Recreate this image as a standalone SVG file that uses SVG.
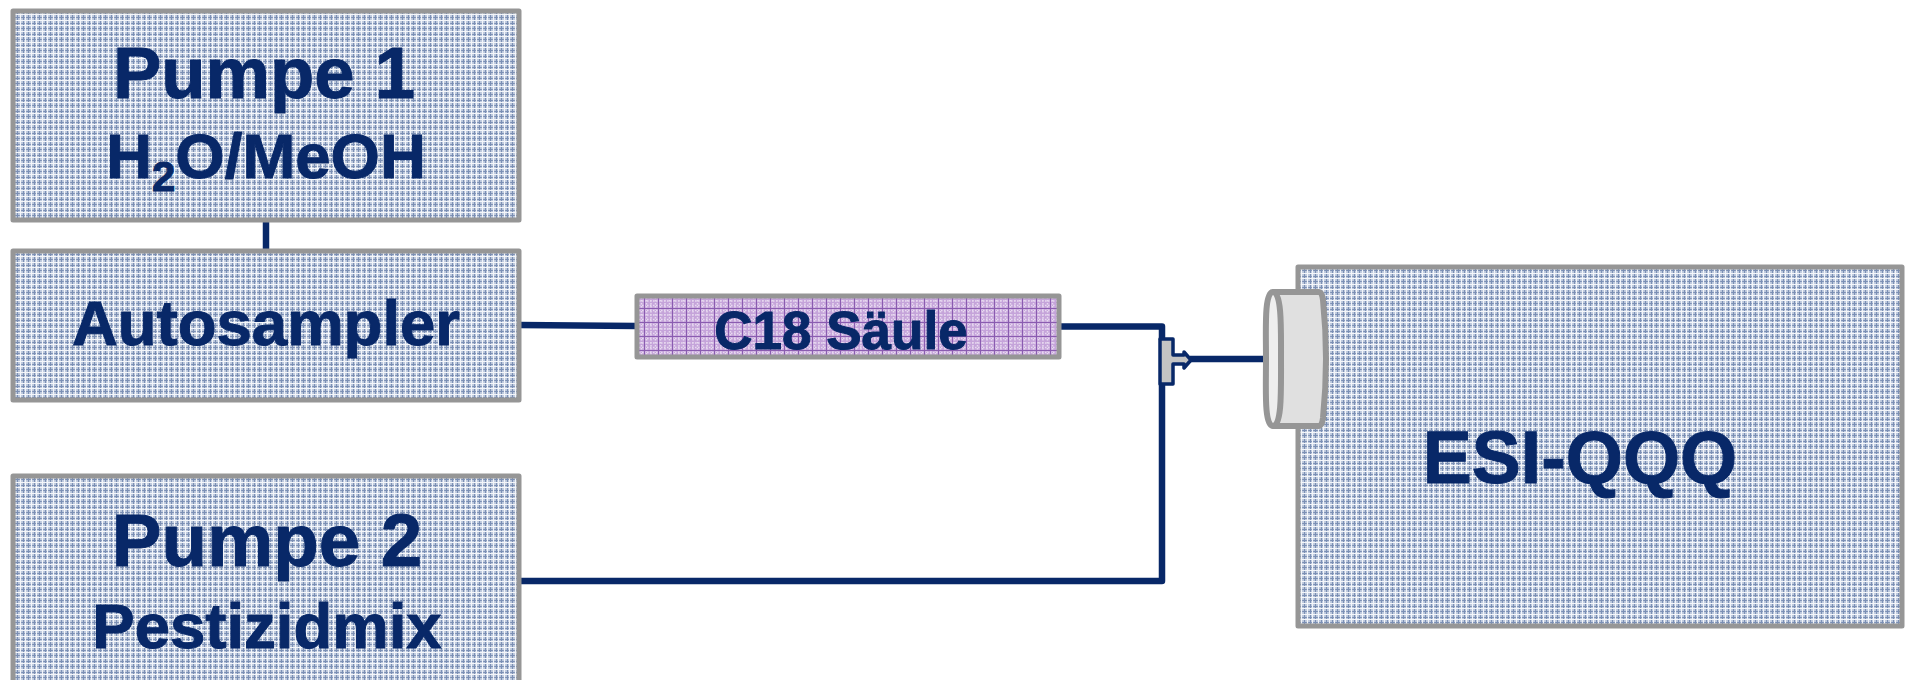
<svg xmlns="http://www.w3.org/2000/svg" width="1908" height="680" viewBox="0 0 1908 680">
<style>
.box{stroke:#969696;stroke-width:5;stroke-linejoin:round;fill:url(#plaid)}
.t{font-family:"Liberation Sans",Arial,sans-serif;font-weight:bold;fill:#082868;stroke:#082868;stroke-width:1;text-anchor:middle}
.c{fill:none;stroke:#082868;stroke-width:6.500;stroke-linejoin:round}
</style>
<defs>
<pattern id="plaid" width="11" height="11" patternUnits="userSpaceOnUse">
<rect width="11" height="11" fill="#bcc8dc"/>
<path d="M0 1.500H11M0 6.500H11M1.500 0V11M6.500 0V11" stroke="#7b8fb4" stroke-width="1"/>
<path d="M0 3.500H11M3.500 0V11M0 9.500H11M9.500 0V11" stroke="#f4f6fa" stroke-width="1.200"/>
</pattern>
<pattern id="plaidv" width="14" height="14" patternUnits="userSpaceOnUse">
<rect width="14" height="14" fill="#c5a4da"/>
<path d="M0 2.500H14M0 7H14M2.500 0V14M7 0V14M11.500 0V14M0 11.500H14" stroke="#e8daf0" stroke-width="1.500" stroke-dasharray="1.500 1.500"/>
<path d="M0 .5H14M.5 0V14" stroke="#8a5cb0" stroke-width="1"/>
</pattern>
</defs>
<g id="connectors">
<path class="c" d="M266 220V251"/>
<path class="c" d="M519 325L637 326"/>
<path class="c" d="M1059 326.500H1162V340"/>
<path class="c" d="M519 581H1162V384"/>
<path class="c" d="M1190 359H1265"/>
</g>
<g id="esi"><rect class="box" x="1298" y="267" width="604" height="359"/>
<text class="t" x="1580" y="483" font-size="73.500">ESI-QQQ</text></g>
<g id="pumpe1"><rect class="box" x="13" y="11" width="506" height="209"/>
<text class="t" x="264" y="98" font-size="72.500">Pumpe 1</text>
<text class="t" x="266" y="178" font-size="63.500">H<tspan font-size="42" dy="13">2</tspan><tspan dy="-13">O/MeOH</tspan></text></g>
<g id="autosampler"><rect class="box" x="13" y="251" width="506" height="149"/>
<text class="t" x="266" y="345" font-size="63.500">Autosampler</text></g>
<g id="pumpe2"><rect class="box" x="13" y="476" width="506" height="208"/>
<text class="t" x="267" y="566" font-size="74.500">Pumpe 2</text>
<text class="t" x="267" y="648" font-size="63.500">Pestizidmix</text></g>
<g id="saeule"><rect class="box" x="637" y="296" width="422" height="61" style="fill:url(#plaidv)"/>
<text class="t" x="841" y="349" font-size="53">C18 Säule</text></g>
<g id="tee"><path d="M1160 339H1173V355H1184V352L1191 360L1184 368V364H1173V384H1160Z" fill="#c4c4c4" stroke="#082868" stroke-width="3.500" stroke-linejoin="round"/></g>
<g id="inlet" stroke="#969696" stroke-width="6" stroke-linejoin="round">
<path d="M1274 292H1319Q1322 292 1323 300Q1329 359 1323 418Q1322 426 1319 426H1274Z" fill="#e0e0e0"/>
<path d="M1273 292C1264 292 1266 330 1266 359C1266 390 1264 426 1273 426C1282 426 1281 390 1281 359C1281 330 1282 292 1273 292Z" fill="#eeeeee"/>
</g>
</svg>
